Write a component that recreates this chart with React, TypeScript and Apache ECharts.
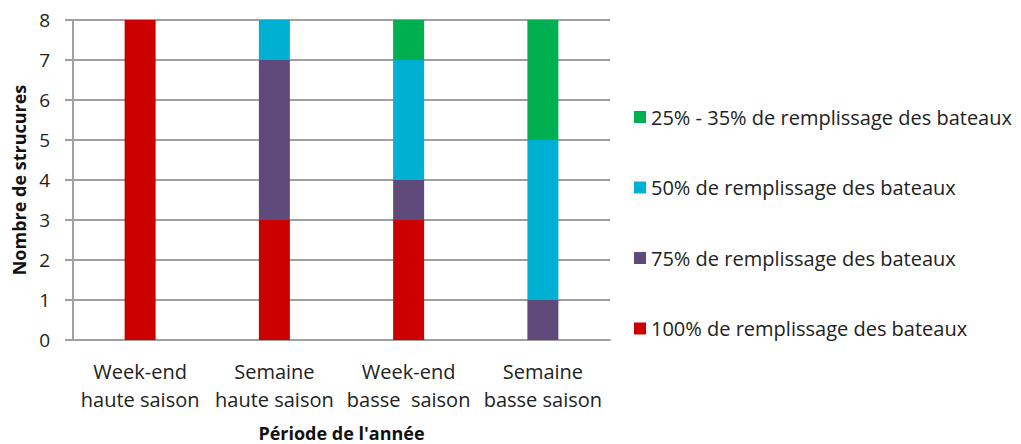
import React, { useEffect, useRef } from "react";
import * as echarts from "echarts";

const categories = [
  "Week-end\nhaute saison",
  "Semaine\nhaute saison",
  "Week-end\nbasse  saison",
  "Semaine\nbasse saison",
];
const seriesNames = [
  "100% de remplissage des bateaux",
  "75% de remplissage des bateaux",
  "50% de remplissage des bateaux",
  "25% - 35% de remplissage des bateaux",
];
const values100 = [8, 3, 3, 0];
const values75 = [0, 4, 1, 1];
const values50 = [0, 1, 3, 4];
const values25 = [0, 0, 1, 3];
const colors = ["#CC0000", "#604A7B", "#00B0D2", "#00B050"];

const FONT = "'Open Sans', sans-serif";

export default function App() {
  const ref = useRef<HTMLDivElement>(null);
  useEffect(() => {
    if (!ref.current) return;
    const chart = echarts.init(ref.current, null, { renderer: "svg" });
    const allValues = [values100, values75, values50, values25];
    chart.setOption({
      animation: false,
      backgroundColor: "#ffffff",
      grid: {
        left: 73,
        top: 20,
        right: 411,
        bottom: 104,
        containLabel: false,
        outerBoundsMode: "none",
      },
      legend: {
        orient: "vertical",
        left: 629,
        top: 102,
        itemWidth: 12,
        itemHeight: 12,
        itemGap: 50.5,
        icon: "rect",
        data: [seriesNames[3], seriesNames[2], seriesNames[1], seriesNames[0]],
        textStyle: { fontFamily: FONT, fontSize: 20, lineHeight: 20, color: "#222" },
      },
      xAxis: {
        type: "category",
        data: categories,
        name: "Période de l'année",
        nameLocation: "middle",
        nameGap: 84,
        nameTextStyle: { fontFamily: FONT, fontSize: 18, fontWeight: "bold", color: "#111" },
        axisLine: { lineStyle: { color: "#A0A0A0", width: 2 } },
        axisTick: { show: false },
        axisLabel: {
          fontFamily: FONT,
          fontSize: 20,
          color: "#222",
          lineHeight: 28,
          margin: 17,
          interval: 0,
        },
      },
      yAxis: {
        type: "value",
        min: 0,
        max: 8,
        interval: 1,
        name: "Nombre de strucures",
        nameLocation: "middle",
        nameGap: 41,
        nameTextStyle: { fontFamily: FONT, fontSize: 18, fontWeight: "bold", color: "#111" },
        axisLine: { show: true, lineStyle: { color: "#A0A0A0", width: 2 } },
        axisTick: { show: true, length: 8, lineStyle: { color: "#A0A0A0", width: 2 } },
        splitLine: { lineStyle: { color: "#A0A0A0", width: 2 } },
        axisLabel: { fontFamily: FONT, fontSize: 19, color: "#222", margin: 23 },
      },
      series: seriesNames.map((name, i) => ({
        name,
        type: "bar",
        stack: "total",
        barWidth: 31,
        data: allValues[i],
        itemStyle: { color: colors[i] },
      })),
    });
    return () => chart.dispose();
  }, []);
  return (
    <div
      ref={ref}
      style={{ position: "absolute", left: 0, top: 0, width: 1021, height: 444 }}
    />
  );
}
